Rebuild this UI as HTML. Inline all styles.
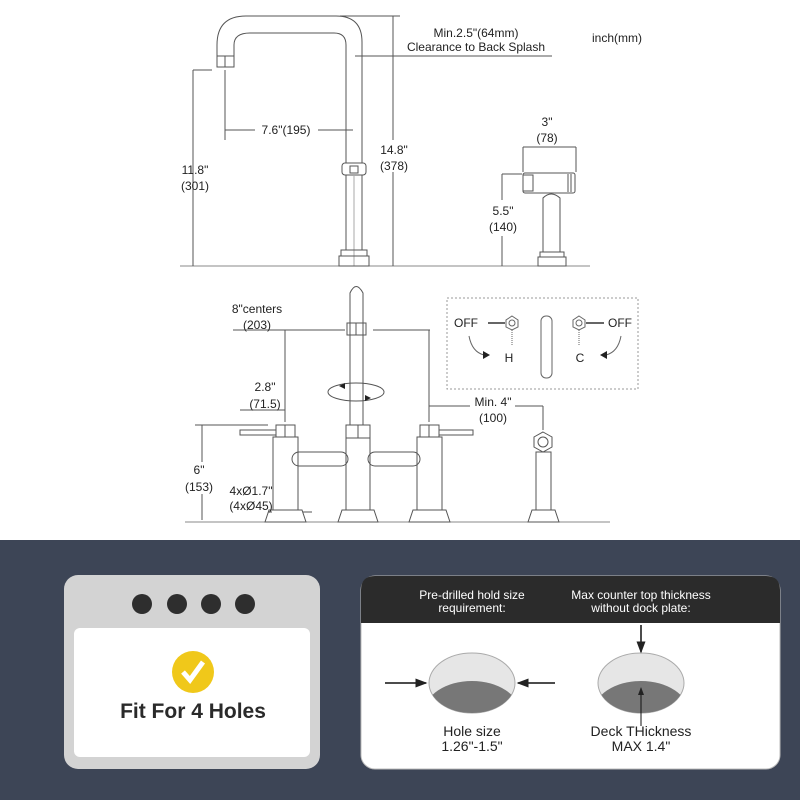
<!DOCTYPE html>
<html><head><meta charset="utf-8"><style>
html,body{margin:0;padding:0;background:#fff}
svg{display:block}
text{font-family:"Liberation Sans",sans-serif}
</style></head><body>
<svg width="800" height="800" viewBox="0 0 800 800" xmlns="http://www.w3.org/2000/svg">
<defs>
<marker id="ar" markerWidth="8" markerHeight="8" refX="7" refY="4" orient="auto"><path d="M0,1 L8,4 L0,7z" fill="#222"/></marker>
</defs>
<rect width="800" height="540" fill="#fff"/>
<g stroke="#555" fill="none" stroke-width="1">
<line x1="180" y1="266" x2="590" y2="266" stroke="#888"/>
<line x1="185" y1="522" x2="610" y2="522" stroke="#888"/>
<path d="M217,56 L217,45 Q217,16 246,16 L336,16 Q362,16 362,42 L362,163"/>
<path d="M234,56 L234,45 Q234,33 250,33 L334,33 Q346,33 346,45 L346,163"/>
<rect x="217" y="56" width="17" height="11"/><line x1="225" y1="56" x2="225" y2="67"/>
<rect x="342" y="163" width="24" height="12" rx="3"/><rect x="350" y="166" width="8" height="7"/>
<rect x="346" y="175" width="16" height="75"/>
<line x1="354" y1="175" x2="354" y2="266" stroke="#aaa"/>
<rect x="341" y="250" width="26" height="6"/><path d="M339,256 L369,256 L369,266 L339,266z"/>
<line x1="193" y1="70" x2="193" y2="266"/><line x1="193" y1="70" x2="212" y2="70"/>
<line x1="225" y1="70" x2="225" y2="140"/>
<line x1="225" y1="130" x2="255" y2="130"/><line x1="318" y1="130" x2="353" y2="130"/>
<line x1="393" y1="16" x2="393" y2="140"/><line x1="393" y1="172" x2="393" y2="266"/>
<line x1="340" y1="16" x2="400" y2="16"/>
<line x1="355" y1="56" x2="552" y2="56"/>
<rect x="523" y="173" width="52" height="20" rx="2"/><rect x="523" y="175" width="10" height="16"/>
<line x1="568" y1="174" x2="568" y2="192"/><line x1="571" y1="174" x2="571" y2="192"/>
<path d="M543,252 L543,198 Q551,190 560,198 L560,252"/>
<rect x="540" y="252" width="24" height="5"/><rect x="538" y="257" width="28" height="9"/>
<line x1="523" y1="147" x2="576" y2="147"/><line x1="523" y1="147" x2="523" y2="172"/><line x1="576" y1="147" x2="576" y2="172"/>
<line x1="502" y1="174" x2="502" y2="200"/><line x1="502" y1="236" x2="502" y2="266"/><line x1="502" y1="174" x2="522" y2="174"/>
<path d="M350,425 L350,293 Q356,280 363,293 L363,425"/>
<rect x="347" y="323" width="19" height="12"/><line x1="356" y1="323" x2="356" y2="335"/>
<rect x="346" y="425" width="24" height="13"/><line x1="358" y1="425" x2="358" y2="438"/>
<rect x="346" y="438" width="24" height="72"/>
<path d="M342,510 L374,510 L378,522 L338,522z"/>
<rect x="276" y="425" width="19" height="12"/><line x1="285" y1="425" x2="285" y2="437"/>
<rect x="240" y="430" width="36" height="5"/>
<rect x="273" y="437" width="25" height="73"/>
<path d="M269,510 L302,510 L306,522 L265,522z"/>
<rect x="420" y="425" width="19" height="12"/><line x1="429" y1="425" x2="429" y2="437"/>
<rect x="439" y="430" width="34" height="5"/>
<rect x="417" y="437" width="25" height="73"/>
<path d="M413,510 L446,510 L450,522 L409,522z"/>
<rect x="292" y="452" width="56" height="14" rx="7"/>
<rect x="368" y="452" width="52" height="14" rx="7"/>
<polygon points="543,432 552,437 552,447 543,452 534,447 534,437"/><circle cx="543" cy="442" r="5"/>
<rect x="536" y="452" width="15" height="58"/>
<path d="M532,510 L555,510 L559,522 L528,522z"/>
<line x1="233" y1="330" x2="345" y2="330"/><line x1="373" y1="330" x2="430" y2="330"/>
<line x1="285" y1="330" x2="285" y2="422"/><line x1="429" y1="330" x2="429" y2="422"/>
<line x1="240" y1="410" x2="285" y2="410"/>
<line x1="202" y1="425" x2="202" y2="462"/><line x1="202" y1="494" x2="202" y2="520"/><line x1="195" y1="425" x2="268" y2="425"/>
<line x1="268" y1="512" x2="272" y2="512"/><line x1="303" y1="512" x2="312" y2="512"/>
<line x1="429" y1="406" x2="470" y2="406"/><line x1="515" y1="406" x2="543" y2="406"/><line x1="543" y1="406" x2="543" y2="430"/>
<ellipse cx="356" cy="392" rx="28" ry="9"/>
</g>
<path d="M339,386 l6,-3 l0,6z M371,398 l-6,-3 l0,6z" fill="#222"/>
<rect x="447" y="298" width="191" height="91" fill="none" stroke="#999" stroke-dasharray="2,2"/>
<g stroke="#666" fill="none">
<line x1="488" y1="323" x2="505" y2="323" stroke-width="2"/>
<polygon points="512,316 518,320 518,327 512,330 506,327 506,320"/><circle cx="512" cy="323" r="3"/>
<line x1="512" y1="330" x2="512" y2="345" stroke-dasharray="1,1"/>
<polygon points="579,316 585,320 585,327 579,330 573,327 573,320"/><circle cx="579" cy="323" r="3"/>
<line x1="586" y1="323" x2="604" y2="323" stroke-width="2"/>
<line x1="579" y1="330" x2="579" y2="345" stroke-dasharray="1,1"/>
<rect x="541" y="316" width="11" height="62" rx="5"/>
<path d="M469,336 Q472,352 484,355"/><path d="M621,336 Q618,352 606,355"/>
</g>
<path d="M483,351 l7,4 l-7,4z M607,351 l-7,4 l7,4z" fill="#222"/>
<g font-size="12" text-anchor="middle" style="fill:#222">
<text x="476" y="37">Min.2.5"(64mm)</text>
<text x="476" y="51">Clearance to Back Splash</text>
<text x="617" y="42">inch(mm)</text>
<text x="286" y="134">7.6"(195)</text>
<text x="195" y="174">11.8"</text><text x="195" y="190">(301)</text>
<text x="394" y="154">14.8"</text><text x="394" y="170">(378)</text>
<text x="547" y="126">3"</text><text x="547" y="142">(78)</text>
<text x="503" y="215">5.5"</text><text x="503" y="231">(140)</text>
<text x="257" y="313">8"centers</text><text x="257" y="329">(203)</text>
<text x="265" y="391">2.8"</text><text x="265" y="408">(71.5)</text>
<text x="199" y="474">6"</text><text x="199" y="491">(153)</text>
<text x="251" y="495">4xØ1.7"</text><text x="251" y="510">(4xØ45)</text>
<text x="493" y="406">Min. 4"</text><text x="493" y="422">(100)</text>
<text x="466" y="327">OFF</text><text x="620" y="327">OFF</text>
<text x="509" y="362">H</text><text x="580" y="362">C</text>
</g>
<rect x="0" y="540" width="800" height="260" fill="#3d4556"/>
<rect x="64" y="575" width="256" height="194" rx="14" fill="#d3d3d3"/>
<rect x="74" y="628" width="236" height="129" rx="6" fill="#fff"/>
<g fill="#2e2e2e"><circle cx="142" cy="604" r="10"/><circle cx="177" cy="604" r="10"/><circle cx="211" cy="604" r="10"/><circle cx="245" cy="604" r="10"/></g>
<circle cx="193" cy="672" r="21" fill="#f0c81a"/>
<path d="M183,672 L190,680 L203,662" stroke="#fff" stroke-width="5" fill="none"/>
<text x="193" y="718" font-size="21" font-weight="bold" text-anchor="middle" style="fill:#2a2a2a">Fit For 4 Holes</text>
<rect x="361" y="576" width="419" height="193" rx="14" fill="#fff" stroke="#bbb"/>
<path d="M361,623 L361,590 Q361,576 375,576 L766,576 Q780,576 780,590 L780,623z" fill="#2b2b2b"/>
<g font-size="12" text-anchor="middle" style="fill:#fff">
<text x="472" y="599">Pre-drilled hold size</text>
<text x="472" y="612">requirement:</text>
<text x="641" y="599">Max counter top thickness</text>
<text x="641" y="612">without dock plate:</text>
</g>
<defs><clipPath id="c1"><ellipse cx="472" cy="683" rx="43" ry="30"/></clipPath><clipPath id="c2"><ellipse cx="641" cy="683" rx="43" ry="30"/></clipPath></defs>
<ellipse cx="472" cy="683" rx="43" ry="30" fill="#e6e6e6" stroke="#aaa"/>
<ellipse cx="472" cy="713" rx="48" ry="32" fill="#777" clip-path="url(#c1)"/>
<ellipse cx="641" cy="683" rx="43" ry="30" fill="#e6e6e6" stroke="#aaa"/>
<ellipse cx="641" cy="713" rx="48" ry="32" fill="#777" clip-path="url(#c2)"/>
<g stroke="#111" stroke-width="1.5">
<line x1="385" y1="683" x2="426" y2="683" marker-end="url(#ar)"/>
<line x1="555" y1="683" x2="518" y2="683" marker-end="url(#ar)"/>
<line x1="641" y1="625" x2="641" y2="652" marker-end="url(#ar)"/>
<line x1="641" y1="726" x2="641" y2="688" marker-end="url(#ar)" stroke-width="1"/>
</g>
<g font-size="14" text-anchor="middle" style="fill:#222">
<text x="472" y="736">Hole size</text><text x="472" y="751">1.26"-1.5"</text>
<text x="641" y="736">Deck THickness</text><text x="641" y="751">MAX 1.4"</text>
</g>
</svg>
</body></html>
